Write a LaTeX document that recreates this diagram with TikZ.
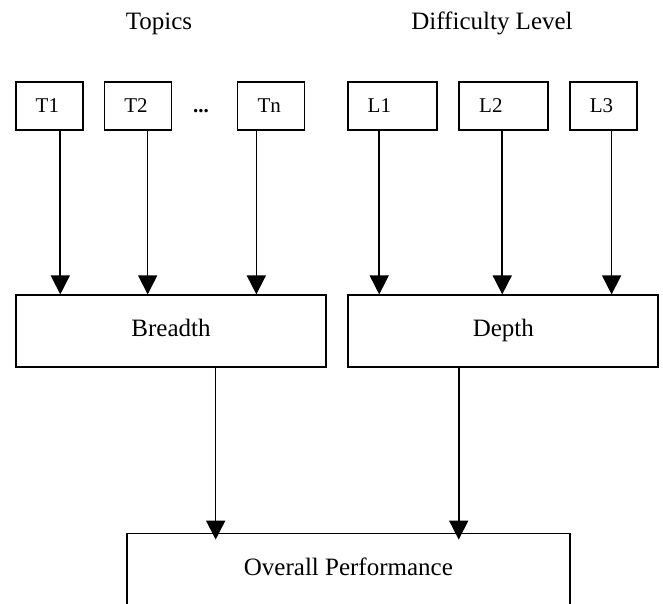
\documentclass[tikz,border=0pt]{standalone}
\usepackage{fontspec}
\setmainfont{Liberation Serif}
\usetikzlibrary{positioning,arrows.meta,calc}

\begin{document}
\begin{tikzpicture}[x=1pt,y=-1pt,
  box/.style={draw,line width=1.8pt,inner sep=0pt},
  smallbox/.style={box,minimum height=48pt,inner xsep=20pt,align=left,font=\fontsize{21}{25}\selectfont},
  bigbox/.style={box,minimum width=310pt,minimum height=72pt,text height=17pt,text depth=7.6pt,
    font=\fontsize{25}{30}\selectfont},
  heading/.style={anchor=base,font=\fontsize{25}{30}\selectfont},
  arr/.style={line width=1.6pt,-{Triangle[length=19pt,width=19pt]}}]
\useasboundingbox (0,0) rectangle (663,604);
\clip (0,0) rectangle (663,604);
% column headings
\node[heading] (topics) at (159,30) {Topics};
\node[heading] (levels) at (492,30) {Difficulty Level};
% topic boxes
\node[smallbox,text width=27pt] (t1) at (49.2,105.7) {T1};
\node[smallbox,text width=27pt] (t2) at (137.9,105.7) {T2};
\node[anchor=base,font=\fontsize{21}{25}\selectfont\bfseries] (dots) at (201,113) {...};
\node[smallbox,text width=27pt] (tn) at (271,105.7) {Tn};
% level boxes
\node[smallbox,text width=49pt] (l1) at (392.2,105.7) {L1};
\node[smallbox,text width=49pt] (l2) at (503.7,105.7) {L2};
\node[smallbox,text width=27pt] (l3) at (603.4,105.7) {L3};
% breadth and depth
\node[bigbox,minimum width=310.6pt] (breadth) at (171,331.3) {Breadth};
\node[bigbox] (depth) at (503.3,331.3) {Depth};
% overall box, open at the bottom edge
\node[box,anchor=base,text height=42pt,text depth=70pt,minimum width=443.3pt,
  font=\fontsize{25}{30}\selectfont] (overall) at (348.4,575.5) {Overall Performance};
% arrows into breadth and depth
\foreach \src/\pos/\dst in {t1/.661/breadth,t2/.642/breadth,tn/.287/breadth,
  l1/.357/depth,l2/.484/depth,l3/.619/depth} {
  \coordinate (s) at ($(\src.south west)!\pos!(\src.south east)$);
  \draw[arr] (s) -- (s |- \dst.north);
}
% arrows into overall
\foreach \src/\pos in {breadth/.643,depth/.357} {
  \coordinate (s) at ($(\src.south west)!\pos!(\src.south east)$);
  \draw[arr,shorten >=-7pt] (s) -- (s |- overall.north);
}
\end{tikzpicture}
\end{document}
